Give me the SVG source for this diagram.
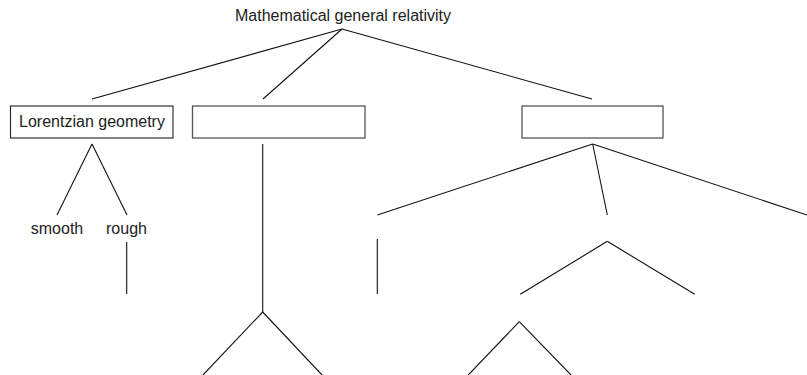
<svg xmlns="http://www.w3.org/2000/svg" width="807" height="375" viewBox="0 0 807 375">
<style>
text{font-family:"Liberation Sans",Arial,sans-serif;font-size:16px;fill:#222;text-anchor:middle}
.c line{stroke:#111;stroke-width:1.1}
.box{fill:#fff;stroke:#555;stroke-width:1.3}
.box1{fill:#fff;stroke:#222;stroke-width:1.1}
</style>
<rect width="807" height="375" fill="#fff"/>
<g id="connectors" class="c">
<line x1="342" y1="29" x2="92" y2="99"/>
<line x1="342" y1="29" x2="263" y2="99"/>
<line x1="342" y1="29" x2="592" y2="99"/>
<line x1="92" y1="144" x2="57" y2="215"/>
<line x1="92" y1="144" x2="127" y2="215"/>
<line x1="126.7" y1="242" x2="126.7" y2="294"/>
<line x1="262.7" y1="144" x2="262.7" y2="312"/>
<line x1="262.7" y1="312" x2="203" y2="375"/>
<line x1="262.7" y1="312" x2="322" y2="375"/>
<line x1="592.7" y1="144" x2="377.3" y2="215"/>
<line x1="592.7" y1="144" x2="607.3" y2="215"/>
<line x1="592.7" y1="144" x2="807" y2="215"/>
<line x1="377.3" y1="239" x2="377.3" y2="294"/>
<line x1="607.3" y1="241.3" x2="520.3" y2="294.3"/>
<line x1="607.3" y1="241.3" x2="694.7" y2="294.3"/>
<line x1="519.3" y1="321.7" x2="468.3" y2="375"/>
<line x1="519.3" y1="321.7" x2="571" y2="375"/>
</g>
<g id="root"><text x="343" y="20.5">Mathematical general relativity</text></g>
<g id="lorentzian"><rect class="box1" x="10.5" y="106" width="162.5" height="32"/><text x="92" y="127">Lorentzian geometry</text></g>
<g id="box2"><rect class="box" x="192.5" y="106" width="172.5" height="32"/></g>
<g id="box3"><rect class="box" x="522" y="106" width="141" height="32"/></g>
<g id="smooth"><text x="57" y="234">smooth</text></g>
<g id="rough"><text x="126.5" y="234">rough</text></g>
</svg>
